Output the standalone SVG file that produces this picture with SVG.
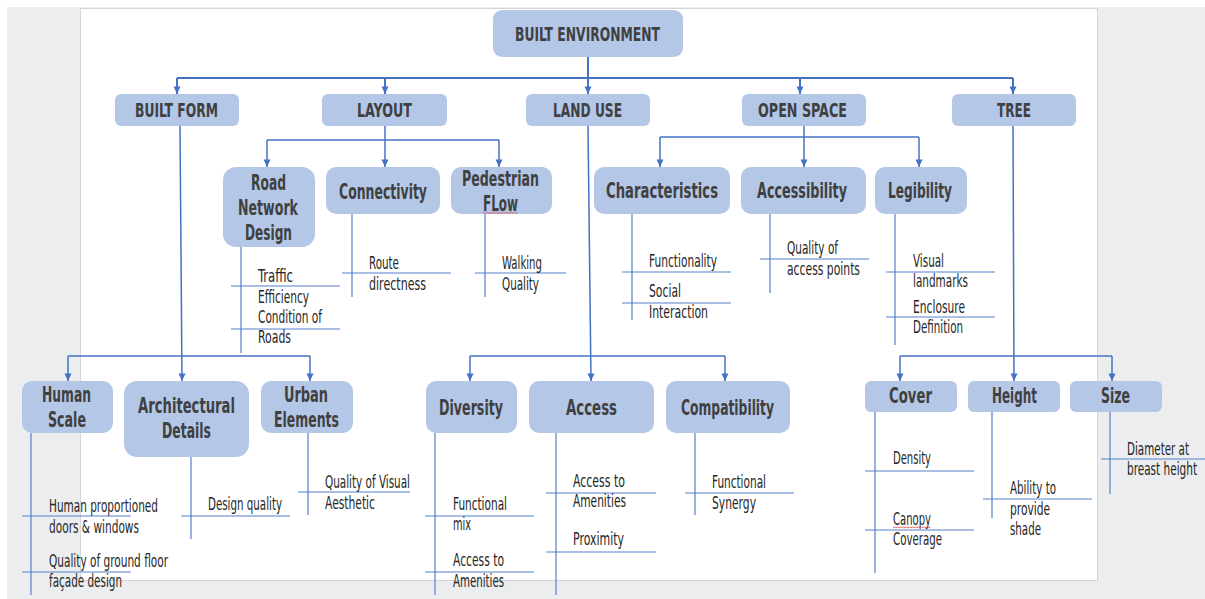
<svg xmlns="http://www.w3.org/2000/svg" width="1205" height="599" viewBox="0 0 1205 599">
  <defs>
    <marker id="arr" markerUnits="userSpaceOnUse" markerWidth="8" markerHeight="8" viewBox="0 0 8 8" refX="4" refY="8" orient="0">
      <path d="M0.5,0.5 L7.5,0.5 L4,8 Z" fill="#4472C4"/>
    </marker>
    <style>
      .box { fill: #B4C7E7; }
      .title { font-family: "DejaVu Sans Condensed", "DejaVu Sans", sans-serif; font-weight: bold; font-size: 21px; fill: #404040; }
      .top { font-size: 20px; }
      .item { font-family: "DejaVu Sans Condensed", "DejaVu Sans", sans-serif; font-size: 17px; fill: #262626; }
      .main { fill: none; stroke: #4472C4; stroke-width: 2; }
      .sub { fill: none; stroke: #4472C4; stroke-width: 1.5; }
      .attr { fill: none; stroke: #5580CC; stroke-width: 1.2; }
      .spell { fill: none; stroke: #E04040; stroke-width: 0.8; }
    </style>
  </defs>

  <!-- workspace and page -->
  <rect x="0" y="0" width="1205" height="599" fill="#FFFFFF"/>
  <rect x="7" y="7" width="1198" height="592" fill="#ECEDEF"/>
  <rect x="80.5" y="8.5" width="1017" height="572" fill="#FFFFFF" stroke="#D6D6D6" stroke-width="1"/>

  <!-- connectors -->
  <g id="connectors">
    <!-- root to first level -->
    <path class="main" d="M177,78 H1013"/>
    <path class="main" d="M588,57 V94" marker-end="url(#arr)"/>
    <path class="main" d="M177,78 V94" marker-end="url(#arr)"/>
    <path class="main" d="M385,78 V94" marker-end="url(#arr)"/>
    <path class="main" d="M800,78 V94" marker-end="url(#arr)"/>
    <path class="main" d="M1013,78 V94" marker-end="url(#arr)"/>

    <!-- layout -->
    <path class="sub" d="M267,140 H499"/>
    <path class="sub" d="M385,126 V167" marker-end="url(#arr)"/>
    <path class="sub" d="M267,140 V167" marker-end="url(#arr)"/>
    <path class="sub" d="M499,140 V167" marker-end="url(#arr)"/>

    <!-- open space -->
    <path class="sub" d="M660,137 H919"/>
    <path class="sub" d="M804,126 V167" marker-end="url(#arr)"/>
    <path class="sub" d="M660,137 V167" marker-end="url(#arr)"/>
    <path class="sub" d="M919,137 V167" marker-end="url(#arr)"/>

    <!-- built form -->
    <path class="sub" d="M68,356 H310"/>
    <path class="sub" d="M180,126 L182,381" marker-end="url(#arr)"/>
    <path class="sub" d="M68,356 V381" marker-end="url(#arr)"/>
    <path class="sub" d="M310,356 V381" marker-end="url(#arr)"/>

    <!-- land use -->
    <path class="sub" d="M470,356 H725"/>
    <path class="sub" d="M588,126 L591,381" marker-end="url(#arr)"/>
    <path class="sub" d="M470,356 V381" marker-end="url(#arr)"/>
    <path class="sub" d="M725,356 V381" marker-end="url(#arr)"/>

    <!-- tree -->
    <path class="sub" d="M900,356 H1112"/>
    <path class="sub" d="M1013,126 L1014,381" marker-end="url(#arr)"/>
    <path class="sub" d="M900,356 V381" marker-end="url(#arr)"/>
    <path class="sub" d="M1112,356 V381" marker-end="url(#arr)"/>

    <!-- attribute rails -->
    <path class="attr" d="M241,247 V353 M231,286 H340 M231,329 H340"/>
    <path class="attr" d="M352,214 V297 M342,273 H451"/>
    <path class="attr" d="M485,214 V297 M475,273 H566"/>
    <path class="attr" d="M632,214 V320 M622,272 H731 M622,303 H731"/>
    <path class="attr" d="M770,214 V293 M760,259 H869"/>
    <path class="attr" d="M895,214 V345 M886,272 H995 M886,317 H995"/>
    <path class="attr" d="M31,433 V595 M22,516 H131 M22,572 H131"/>
    <path class="attr" d="M191,457 V539 M181,516 H290"/>
    <path class="attr" d="M308,433 V515 M298,492 H410"/>
    <path class="attr" d="M435,433 V595 M425,516 H534 M425,572 H534"/>
    <path class="attr" d="M556,433 V595 M546,493 H656 M546,552 H656"/>
    <path class="attr" d="M695,433 V515 M685,493 H794"/>
    <path class="attr" d="M875,412 V573 M865,471 H974 M865,530 H974"/>
    <path class="attr" d="M992,412 V518 M983,499 H1092"/>
    <path class="attr" d="M1110,412 V494 M1101,459 H1205"/>
  </g>

  <!-- root -->
  <g id="node-built-environment">
    <rect class="box" x="493" y="10" width="190" height="47" rx="9"/>
    <text class="title top" x="515" y="41" textLength="145" lengthAdjust="spacingAndGlyphs">BUILT ENVIRONMENT</text>
  </g>

  <!-- first level -->
  <g id="node-built-form">
    <rect class="box" x="115" y="94" width="124" height="32" rx="6"/>
    <text class="title top" x="135" y="117" textLength="83" lengthAdjust="spacingAndGlyphs">BUILT FORM</text>
  </g>
  <g id="node-layout">
    <rect class="box" x="322" y="94" width="125" height="32" rx="6"/>
    <text class="title top" x="357" y="117" textLength="55" lengthAdjust="spacingAndGlyphs">LAYOUT</text>
  </g>
  <g id="node-land-use">
    <rect class="box" x="526" y="94" width="124" height="32" rx="6"/>
    <text class="title top" x="553" y="117" textLength="69" lengthAdjust="spacingAndGlyphs">LAND USE</text>
  </g>
  <g id="node-open-space">
    <rect class="box" x="742" y="94" width="124" height="32" rx="6"/>
    <text class="title top" x="758" y="117" textLength="89" lengthAdjust="spacingAndGlyphs">OPEN SPACE</text>
  </g>
  <g id="node-tree">
    <rect class="box" x="952" y="94" width="124" height="32" rx="6"/>
    <text class="title top" x="997" y="117" textLength="34" lengthAdjust="spacingAndGlyphs">TREE</text>
  </g>

  <!-- layout children -->
  <g id="node-road-network-design">
    <rect class="box" x="223" y="167" width="92" height="80" rx="13"/>
    <text class="title" x="251" y="190" textLength="35" lengthAdjust="spacingAndGlyphs">Road</text>
    <text class="title" x="238" y="215" textLength="60" lengthAdjust="spacingAndGlyphs">Network</text>
    <text class="title" x="245" y="240" textLength="47" lengthAdjust="spacingAndGlyphs">Design</text>
    <text class="item" x="258" y="282" textLength="35" lengthAdjust="spacingAndGlyphs">Traffic</text>
    <text class="item" x="258" y="303" textLength="51" lengthAdjust="spacingAndGlyphs">Efficiency</text>
    <text class="item" x="258" y="323" textLength="64" lengthAdjust="spacingAndGlyphs">Condition of</text>
    <text class="item" x="258" y="343" textLength="33" lengthAdjust="spacingAndGlyphs">Roads</text>
  </g>
  <g id="node-connectivity">
    <rect class="box" x="326" y="167" width="114" height="47" rx="10"/>
    <text class="title" x="339" y="199" textLength="88" lengthAdjust="spacingAndGlyphs">Connectivity</text>
    <text class="item" x="369" y="269" textLength="30" lengthAdjust="spacingAndGlyphs">Route</text>
    <text class="item" x="369" y="290" textLength="57" lengthAdjust="spacingAndGlyphs">directness</text>
  </g>
  <g id="node-pedestrian-flow">
    <rect class="box" x="451" y="167" width="101" height="47" rx="10"/>
    <text class="title" x="462" y="186" textLength="77" lengthAdjust="spacingAndGlyphs">Pedestrian</text>
    <text class="title" x="483" y="211" textLength="35" lengthAdjust="spacingAndGlyphs">FLow</text>
    <path class="spell" d="M483,213.5 l1.5,-1.2 l1.5,1.2 l1.5,-1.2 l1.5,1.2 l1.5,-1.2 l1.5,1.2 l1.5,-1.2 l1.5,1.2 l1.5,-1.2 l1.5,1.2 l1.5,-1.2 l1.5,1.2 l1.5,-1.2 l1.5,1.2 l1.5,-1.2 l1.5,1.2 l1.5,-1.2 l1.5,1.2 l1.5,-1.2 l1.5,1.2 l1.5,-1.2 l1.5,1.2 l1.5,-1.2"/>
    <text class="item" x="502" y="269" textLength="40" lengthAdjust="spacingAndGlyphs">Walking</text>
    <text class="item" x="502" y="290" textLength="37" lengthAdjust="spacingAndGlyphs">Quality</text>
  </g>

  <!-- open space children -->
  <g id="node-characteristics">
    <rect class="box" x="594" y="167" width="136" height="47" rx="10"/>
    <text class="title" x="606" y="198" textLength="112" lengthAdjust="spacingAndGlyphs">Characteristics</text>
    <text class="item" x="649" y="267" textLength="68" lengthAdjust="spacingAndGlyphs">Functionality</text>
    <text class="item" x="649" y="297" textLength="32" lengthAdjust="spacingAndGlyphs">Social</text>
    <text class="item" x="649" y="318" textLength="59" lengthAdjust="spacingAndGlyphs">Interaction</text>
  </g>
  <g id="node-accessibility">
    <rect class="box" x="741" y="167" width="125" height="47" rx="10"/>
    <text class="title" x="757" y="198" textLength="90" lengthAdjust="spacingAndGlyphs">Accessibility</text>
    <text class="item" x="787" y="254" textLength="51" lengthAdjust="spacingAndGlyphs">Quality of</text>
    <text class="item" x="787" y="275" textLength="73" lengthAdjust="spacingAndGlyphs">access points</text>
  </g>
  <g id="node-legibility">
    <rect class="box" x="875" y="167" width="92" height="47" rx="10"/>
    <text class="title" x="888" y="198" textLength="64" lengthAdjust="spacingAndGlyphs">Legibility</text>
    <text class="item" x="913" y="267" textLength="31" lengthAdjust="spacingAndGlyphs">Visual</text>
    <text class="item" x="913" y="287" textLength="55" lengthAdjust="spacingAndGlyphs">landmarks</text>
    <text class="item" x="913" y="313" textLength="52" lengthAdjust="spacingAndGlyphs">Enclosure</text>
    <text class="item" x="913" y="333" textLength="50" lengthAdjust="spacingAndGlyphs">Definition</text>
  </g>

  <!-- built form children -->
  <g id="node-human-scale">
    <rect class="box" x="22" y="381" width="91" height="52" rx="10"/>
    <text class="title" x="42" y="402" textLength="49" lengthAdjust="spacingAndGlyphs">Human</text>
    <text class="title" x="48" y="427" textLength="38" lengthAdjust="spacingAndGlyphs">Scale</text>
    <text class="item" x="49" y="512" textLength="109" lengthAdjust="spacingAndGlyphs">Human proportioned</text>
    <text class="item" x="49" y="533" textLength="90" lengthAdjust="spacingAndGlyphs">doors &amp; windows</text>
    <text class="item" x="49" y="567" textLength="119" lengthAdjust="spacingAndGlyphs">Quality of ground floor</text>
    <text class="item" x="49" y="587" textLength="73" lengthAdjust="spacingAndGlyphs">façade design</text>
  </g>
  <g id="node-architectural-details">
    <rect class="box" x="124" y="381" width="125" height="76" rx="13"/>
    <text class="title" x="138" y="413" textLength="97" lengthAdjust="spacingAndGlyphs">Architectural</text>
    <text class="title" x="162" y="438" textLength="49" lengthAdjust="spacingAndGlyphs">Details</text>
    <text class="item" x="208" y="510" textLength="74" lengthAdjust="spacingAndGlyphs">Design quality</text>
  </g>
  <g id="node-urban-elements">
    <rect class="box" x="261" y="381" width="92" height="52" rx="10"/>
    <text class="title" x="284" y="402" textLength="44" lengthAdjust="spacingAndGlyphs">Urban</text>
    <text class="title" x="274" y="427" textLength="65" lengthAdjust="spacingAndGlyphs">Elements</text>
    <text class="item" x="325" y="488" textLength="85" lengthAdjust="spacingAndGlyphs">Quality of Visual</text>
    <text class="item" x="325" y="509" textLength="50" lengthAdjust="spacingAndGlyphs">Aesthetic</text>
  </g>

  <!-- land use children -->
  <g id="node-diversity">
    <rect class="box" x="426" y="381" width="91" height="52" rx="10"/>
    <text class="title" x="439" y="415" textLength="64" lengthAdjust="spacingAndGlyphs">Diversity</text>
    <text class="item" x="453" y="510" textLength="54" lengthAdjust="spacingAndGlyphs">Functional</text>
    <text class="item" x="453" y="530" textLength="18" lengthAdjust="spacingAndGlyphs">mix</text>
    <text class="item" x="453" y="566" textLength="51" lengthAdjust="spacingAndGlyphs">Access to</text>
    <text class="item" x="453" y="587" textLength="51" lengthAdjust="spacingAndGlyphs">Amenities</text>
  </g>
  <g id="node-access">
    <rect class="box" x="529" y="381" width="125" height="52" rx="10"/>
    <text class="title" x="566" y="415" textLength="51" lengthAdjust="spacingAndGlyphs">Access</text>
    <text class="item" x="573" y="487" textLength="52" lengthAdjust="spacingAndGlyphs">Access to</text>
    <text class="item" x="573" y="507" textLength="53" lengthAdjust="spacingAndGlyphs">Amenities</text>
    <text class="item" x="573" y="545" textLength="51" lengthAdjust="spacingAndGlyphs">Proximity</text>
  </g>
  <g id="node-compatibility">
    <rect class="box" x="666" y="381" width="124" height="52" rx="10"/>
    <text class="title" x="681" y="415" textLength="93" lengthAdjust="spacingAndGlyphs">Compatibility</text>
    <text class="item" x="712" y="488" textLength="54" lengthAdjust="spacingAndGlyphs">Functional</text>
    <text class="item" x="712" y="509" textLength="44" lengthAdjust="spacingAndGlyphs">Synergy</text>
  </g>

  <!-- tree children -->
  <g id="node-cover">
    <rect class="box" x="865" y="381" width="92" height="31" rx="6"/>
    <text class="title" x="889" y="403" textLength="43" lengthAdjust="spacingAndGlyphs">Cover</text>
    <text class="item" x="893" y="464" textLength="38" lengthAdjust="spacingAndGlyphs">Density</text>
    <text class="item" x="893" y="525" textLength="38" lengthAdjust="spacingAndGlyphs">Canopy</text>
    <path class="spell" d="M893,528 l1.5,-1.2 l1.5,1.2 l1.5,-1.2 l1.5,1.2 l1.5,-1.2 l1.5,1.2 l1.5,-1.2 l1.5,1.2 l1.5,-1.2 l1.5,1.2 l1.5,-1.2 l1.5,1.2 l1.5,-1.2 l1.5,1.2 l1.5,-1.2 l1.5,1.2 l1.5,-1.2 l1.5,1.2 l1.5,-1.2 l1.5,1.2 l1.5,-1.2 l1.5,1.2 l1.5,-1.2 l1.5,1.2 l1.5,-1.2"/>
    <text class="item" x="893" y="545" textLength="49" lengthAdjust="spacingAndGlyphs">Coverage</text>
  </g>
  <g id="node-height">
    <rect class="box" x="968" y="381" width="92" height="31" rx="6"/>
    <text class="title" x="992" y="403" textLength="45" lengthAdjust="spacingAndGlyphs">Height</text>
    <text class="item" x="1010" y="494" textLength="46" lengthAdjust="spacingAndGlyphs">Ability to</text>
    <text class="item" x="1010" y="515" textLength="40" lengthAdjust="spacingAndGlyphs">provide</text>
    <text class="item" x="1010" y="535" textLength="31" lengthAdjust="spacingAndGlyphs">shade</text>
  </g>
  <g id="node-size">
    <rect class="box" x="1070" y="381" width="92" height="31" rx="6"/>
    <text class="title" x="1101" y="403" textLength="29" lengthAdjust="spacingAndGlyphs">Size</text>
    <text class="item" x="1127" y="455" textLength="62" lengthAdjust="spacingAndGlyphs">Diameter at</text>
    <text class="item" x="1127" y="475" textLength="70" lengthAdjust="spacingAndGlyphs">breast height</text>
  </g>
</svg>
